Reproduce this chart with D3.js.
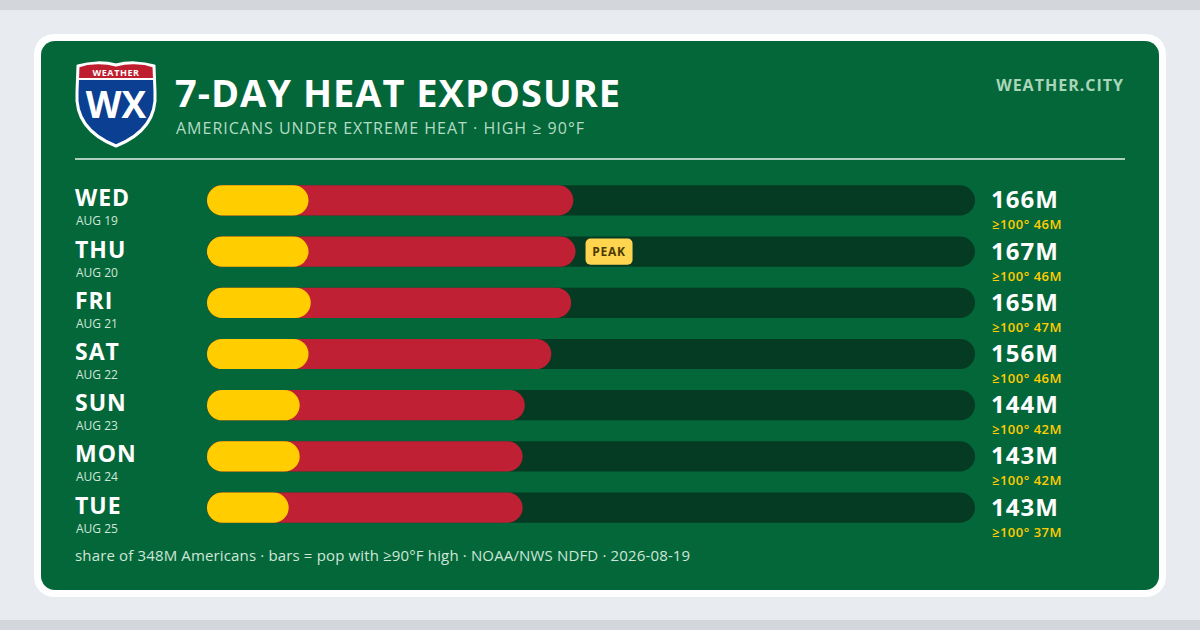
<!DOCTYPE html>
<html>
<head>
<meta charset="utf-8">
<script src="https://cdn.jsdelivr.net/npm/d3@7"></script>
<style>
  html, body { margin: 0; padding: 0; background: #e8ebef; }
  svg { display: block; font-family: "Open Sans", "Noto Sans", sans-serif; }
</style>
</head>
<body>
<div id="chart"></div>
<script>
const width = 1200;
const height = 630;

// data
const days = ['WED', 'THU', 'FRI', 'SAT', 'SUN', 'MON', 'TUE'];
const dates = ['AUG 19', 'AUG 20', 'AUG 21', 'AUG 22', 'AUG 23', 'AUG 24', 'AUG 25'];
const pop90 = [166, 167, 165, 156, 144, 143, 143];   // millions, high >= 90F
const pop100 = [46, 46, 47, 46, 42, 42, 37];         // millions, high >= 100F
const totalPop = 348;

const svg = d3.select('#chart')
  .append('svg')
  .attr('width', width)
  .attr('height', height);

/* background strips + card */
svg.append('rect').attr('x', 0).attr('y', 0).attr('width', width).attr('height', 10).attr('fill', '#d3d6db');
svg.append('rect').attr('x', 0).attr('y', 620).attr('width', width).attr('height', 10).attr('fill', '#d3d6db');
svg.append('rect').attr('x', 34).attr('y', 34).attr('width', 1132).attr('height', 563).attr('rx', 20).attr('fill', '#ffffff');
svg.append('rect').attr('x', 41).attr('y', 41).attr('width', 1118).attr('height', 549).attr('rx', 14).attr('fill', '#04673a');

/* shield logo */
const logo = svg.append('g').attr('transform', 'translate(75,62)');
const shieldPath = 'M3,4 C15,0 30,0 41,3 C52,0 67,0 79,4 L80,30 C82,58 66,74 41,84 C16,74 0,58 2,30 Z';
logo.append('clipPath').attr('id', 'shieldClip').append('path').attr('d', shieldPath);
logo.append('path').attr('d', shieldPath).attr('fill', '#0b3f91');
logo.append('rect').attr('x', 0).attr('y', 0).attr('width', 82).attr('height', 17)
  .attr('fill', '#bf1e2e').attr('clip-path', 'url(#shieldClip)');
logo.append('line').attr('x1', 0).attr('x2', 82).attr('y1', 17).attr('y2', 17)
  .attr('stroke', '#ffffff').attr('stroke-width', 2).attr('clip-path', 'url(#shieldClip)');
logo.append('path').attr('d', shieldPath).attr('fill', 'none').attr('stroke', '#ffffff').attr('stroke-width', 3);
logo.append('text').attr('x', 41).attr('y', 14).attr('text-anchor', 'middle')
  .attr('font-size', 9).attr('font-weight', 700).attr('letter-spacing', 0.6).attr('fill', '#ffffff').text('WEATHER');
logo.append('text').attr('x', 41).attr('y', 56).attr('text-anchor', 'middle')
  .attr('font-size', 37).attr('font-weight', 700).attr('fill', '#ffffff').text('WX');

/* header */
svg.append('text').attr('x', 175).attr('y', 107)
  .attr('font-size', 38).attr('font-weight', 700).attr('letter-spacing', 1).attr('fill', '#ffffff')
  .text('7-DAY HEAT EXPOSURE');
svg.append('text').attr('x', 176).attr('y', 134)
  .attr('font-size', 16).attr('fill', '#b3dcc3').attr('letter-spacing', 1)
  .text('AMERICANS UNDER EXTREME HEAT  · HIGH ≥ 90°F');
svg.append('text').attr('x', 1124).attr('y', 91).attr('text-anchor', 'end')
  .attr('font-size', 16).attr('font-weight', 700).attr('letter-spacing', 1).attr('fill', '#a9d6b9')
  .text('WEATHER.CITY');
svg.append('line').attr('x1', 75).attr('x2', 1125).attr('y1', 159).attr('y2', 159)
  .attr('stroke', '#e6f2ea').attr('stroke-width', 1.5);

/* scales */
const x = d3.scaleLinear()
  .domain([0, totalPop])
  .range([207, 975]);

const y = d3.scaleBand()
  .domain(days)
  .range([175, 533])
  .paddingInner(0.41)
  .paddingOuter(0.2);

const barH = y.bandwidth();
const rows = days.map((d, i) => ({ day: d, date: dates[i], p90: pop90[i], p100: pop100[i] }));
const peak = d3.max(pop90);

const row = svg.selectAll('g.row')
  .data(rows)
  .enter()
  .append('g')
  .attr('class', 'row');

// track
row.append('rect')
  .attr('x', x(0))
  .attr('y', d => y(d.day))
  .attr('width', x(totalPop) - x(0))
  .attr('height', barH)
  .attr('rx', barH / 2)
  .attr('fill', '#053b23');

// >= 90F
row.append('rect')
  .attr('x', x(0))
  .attr('y', d => y(d.day))
  .attr('width', d => x(d.p90) - x(0))
  .attr('height', barH)
  .attr('rx', barH / 2)
  .attr('fill', '#bf2034');

// >= 100F
row.append('rect')
  .attr('x', x(0))
  .attr('y', d => y(d.day))
  .attr('width', d => x(d.p100) - x(0))
  .attr('height', barH)
  .attr('rx', barH / 2)
  .attr('fill', '#ffcd00');

// day labels
row.append('text')
  .attr('x', 75)
  .attr('y', d => y(d.day) + barH / 2 + 6)
  .attr('font-size', 23).attr('font-weight', 700).attr('letter-spacing', 1).attr('fill', '#ffffff')
  .text(d => d.day);
row.append('text')
  .attr('x', 76)
  .attr('y', d => y(d.day) + barH / 2 + 25)
  .attr('font-size', 12).attr('fill', '#cfe6d8')
  .text(d => d.date);

// values
row.append('text')
  .attr('x', 991)
  .attr('y', d => y(d.day) + barH / 2 + 8)
  .attr('font-size', 24).attr('font-weight', 700).attr('letter-spacing', 1).attr('fill', '#ffffff')
  .text(d => d.p90 + 'M');
row.append('text')
  .attr('x', 992)
  .attr('y', d => y(d.day) + barH / 2 + 29)
  .attr('font-size', 13).attr('font-weight', 600).attr('letter-spacing', 0.5).attr('fill', '#ffcd00')
  .text(d => '≥100° ' + d.p100 + 'M');

// peak badge
const peakRow = row.filter(d => d.p90 === peak);
peakRow.append('rect')
  .attr('x', d => x(d.p90) + 10)
  .attr('y', d => y(d.day) + 2)
  .attr('width', 47)
  .attr('height', barH - 4)
  .attr('rx', 5)
  .attr('fill', '#ffd54f');
peakRow.append('text')
  .attr('x', d => x(d.p90) + 33.5)
  .attr('y', d => y(d.day) + barH / 2 + 4.5)
  .attr('text-anchor', 'middle')
  .attr('font-size', 12).attr('font-weight', 700).attr('letter-spacing', 0.8).attr('fill', '#4a3a05')
  .text('PEAK');

/* footer */
svg.append('text').attr('x', 75).attr('y', 561)
  .attr('font-size', 15).attr('letter-spacing', 0.15).attr('fill', '#cfe6d8')
  .text('share of ' + totalPop + 'M Americans  · bars = pop with ≥90°F high  · NOAA/NWS NDFD  · 2026-08-19');
</script>
</body>
</html>
